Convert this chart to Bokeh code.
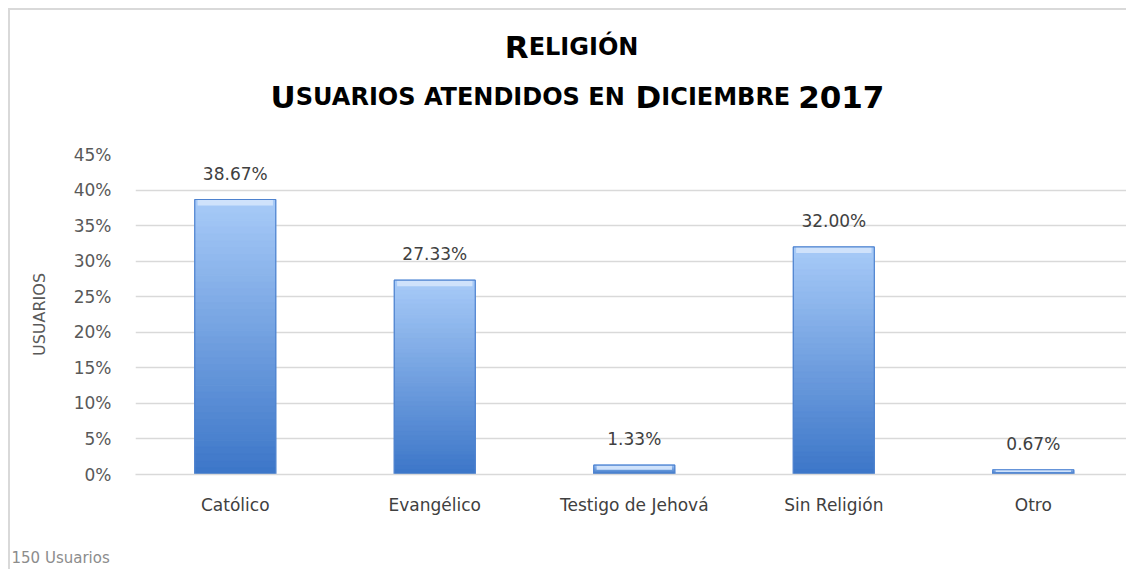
from bokeh.plotting import figure
from bokeh.layouts import column
from bokeh.models import Range1d, FixedTicker
from bokeh.core.properties import value
from bokeh.embed import file_html
from bokeh.resources import INLINE

# ---------------- data ----------------
categories = ["Católico", "Evangélico", "Testigo de Jehová", "Sin Religión", "Otro"]
values = [0.3867, 0.2733, 0.0133, 0.3200, 0.0067]
value_labels = ["38.67%", "27.33%", "1.33%", "32.00%", "0.67%"]
y_ticks = [0.0, 0.05, 0.10, 0.15, 0.20, 0.25, 0.30, 0.35, 0.40, 0.45]
y_tick_labels = ["0%", "5%", "10%", "15%", "20%", "25%", "30%", "35%", "40%", "45%"]
y_axis_title = "USUARIOS"
footnote = "150 Usuarios"
# title written in small caps: (text, is_capital, space_after)
title_line1 = [("R", True, False), ("ELIGIÓN", False, False)]
title_line2 = [("U", True, False), ("SUARIOS ATENDIDOS EN", False, True),
               ("D", True, False), ("ICIEMBRE", False, True), ("2017", True, False)]

# ---------------- style ----------------
FONT = "DejaVu Sans"
W = 1116
H_TITLE, H_MAIN, H_FOOT = 134, 396, 29
BAR_W = 0.406
TOP_COL = (168, 203, 248)
BOT_COL = (60, 118, 200)
N_SLICES = 40
BIG, SMALL = 31, 24

# approximate advance widths (em) of DejaVu Sans Bold, used to lay out small caps
ADV = {"A": .770, "B": .765, "C": .716, "D": .830, "E": .683, "G": .821, "I": .371,
       "L": .635, "M": .993, "N": .836, "O": .850, "Ó": .850, "R": .770, "S": .722,
       "T": .683, "U": .815, " ": .348, "0": .696, "1": .696, "2": .696, "7": .696}


def seg_width(txt, size):
    return sum(ADV.get(ch, .7) for ch in txt) * size


def layout_line(segments, center_x):
    widths = []
    for txt, cap, sp in segments:
        s = BIG if cap else SMALL
        w = seg_width(txt, s) + (ADV[" "] * SMALL if sp else 0)
        widths.append(w)
    x = center_x - sum(widths) / 2
    out = []
    for (txt, cap, sp), w in zip(segments, widths):
        out.append((txt, x, BIG if cap else SMALL))
        x += w
    return out


# ---------------- title figure ----------------
pt = figure(width=W, height=H_TITLE, output_backend="svg", toolbar_location=None,
            x_range=Range1d(0, W), y_range=Range1d(H_TITLE, 0),
            min_border=0, x_axis_type=None, y_axis_type=None)
pt.frame_align = False
pt.outline_line_color = None
pt.xgrid.visible = False
pt.ygrid.visible = False

for line, base_y, cx in ((title_line1, 36, 561), (title_line2, 86, 567)):
    for txt, x, s in layout_line(line, cx):
        pt.text(x=[x], y=[base_y], text=[txt], text_align="left",
                text_baseline="alphabetic", text_font=value(FONT),
                text_font_style="bold", text_font_size="%dpx" % s, text_color="black")

# ---------------- main figure ----------------
xs = list(range(len(categories)))

p = figure(width=W, height=H_MAIN, output_backend="svg", toolbar_location=None,
           x_range=Range1d(-0.5, 4.467), y_range=Range1d(0, 0.45),
           min_border_left=125, min_border_right=0, min_border_top=10,
           min_border_bottom=66)
p.frame_align = False
p.outline_line_color = None

p.xgrid.grid_line_color = None
p.ygrid.ticker = FixedTicker(ticks=y_ticks)
p.ygrid.grid_line_color = "#d9d9d9"
p.ygrid.grid_line_width = 1.5

p.yaxis.ticker = FixedTicker(ticks=y_ticks)
p.yaxis.major_label_overrides = {t: l for t, l in zip(y_ticks, y_tick_labels)}
p.yaxis.axis_line_color = None
p.yaxis.major_tick_line_color = None
p.yaxis.minor_tick_line_color = None
p.yaxis.major_label_standoff = 18
p.yaxis.major_label_text_font = FONT
p.yaxis.major_label_text_font_size = "17px"
p.yaxis.major_label_text_color = "#595959"
p.yaxis.axis_label = y_axis_title
p.yaxis.axis_label_text_font = FONT
p.yaxis.axis_label_text_font_style = "normal"
p.yaxis.axis_label_text_font_size = "16px"
p.yaxis.axis_label_text_color = "#595959"
p.yaxis.axis_label_standoff = 22

p.xaxis.ticker = FixedTicker(ticks=xs)
p.xaxis.major_label_overrides = {i: c for i, c in zip(xs, categories)}
p.xaxis.axis_line_color = "#d9d9d9"
p.xaxis.axis_line_width = 1.5
p.xaxis.major_tick_line_color = None
p.xaxis.minor_tick_line_color = None
p.xaxis.major_label_standoff = 14
p.xaxis.major_label_text_font = FONT
p.xaxis.major_label_text_font_size = "17px"
p.xaxis.major_label_text_color = "#404040"


def mix(t):
    r = int(round(TOP_COL[0] * (1 - t) + BOT_COL[0] * t))
    g = int(round(TOP_COL[1] * (1 - t) + BOT_COL[1] * t))
    b = int(round(TOP_COL[2] * (1 - t) + BOT_COL[2] * t))
    return "#%02x%02x%02x" % (r, g, b)


gx, gbot, gtop, gcol = [], [], [], []
for x, v in zip(xs, values):
    for i in range(N_SLICES):
        t0 = i / N_SLICES
        t1 = (i + 1) / N_SLICES
        gx.append(x)
        gtop.append(v * (1 - t0))
        gbot.append(v * (1 - t1))
        gcol.append(mix((i + 0.5) / N_SLICES))
p.vbar(x=gx, bottom=gbot, top=gtop, width=BAR_W, fill_color=gcol,
       line_color=gcol, line_width=1)

px_per_unit = (H_MAIN - 10 - 66) / 0.45
bevel = [min(6 / px_per_unit, v * 0.5) for v in values]
p.vbar(x=xs, top=values, bottom=[v - b for v, b in zip(values, bevel)],
       width=BAR_W * 0.93, fill_color="#cfe2fb", line_color=None)
p.vbar(x=xs, top=values, bottom=0, width=BAR_W, fill_color=None,
       line_color="#4f83cf", line_width=1.2)

p.text(x=xs, y=values, text=value_labels, text_align="center",
       text_baseline="middle", y_offset=-26, text_font=value(FONT),
       text_font_size="17px", text_color="#404040")

# ---------------- footnote figure ----------------
pf = figure(width=W, height=H_FOOT, output_backend="svg", toolbar_location=None,
            x_range=Range1d(0, W), y_range=Range1d(H_FOOT, 0),
            min_border=0, x_axis_type=None, y_axis_type=None)
pf.frame_align = False
pf.outline_line_color = None
pf.xgrid.visible = False
pf.ygrid.visible = False
pf.text(x=[1], y=[17], text=[footnote], text_align="left", text_baseline="middle",
        text_font=value(FONT), text_font_size="15px", text_color="#8c8c8c")

layout = column(pt, p, pf, spacing=0)
layout.styles = {"position": "absolute", "left": "8px", "top": "8px",
                 "border-left": "2px solid #d9d9d9", "border-top": "2px solid #d9d9d9"}

open("out.html", "w").write(file_html(layout, INLINE))
